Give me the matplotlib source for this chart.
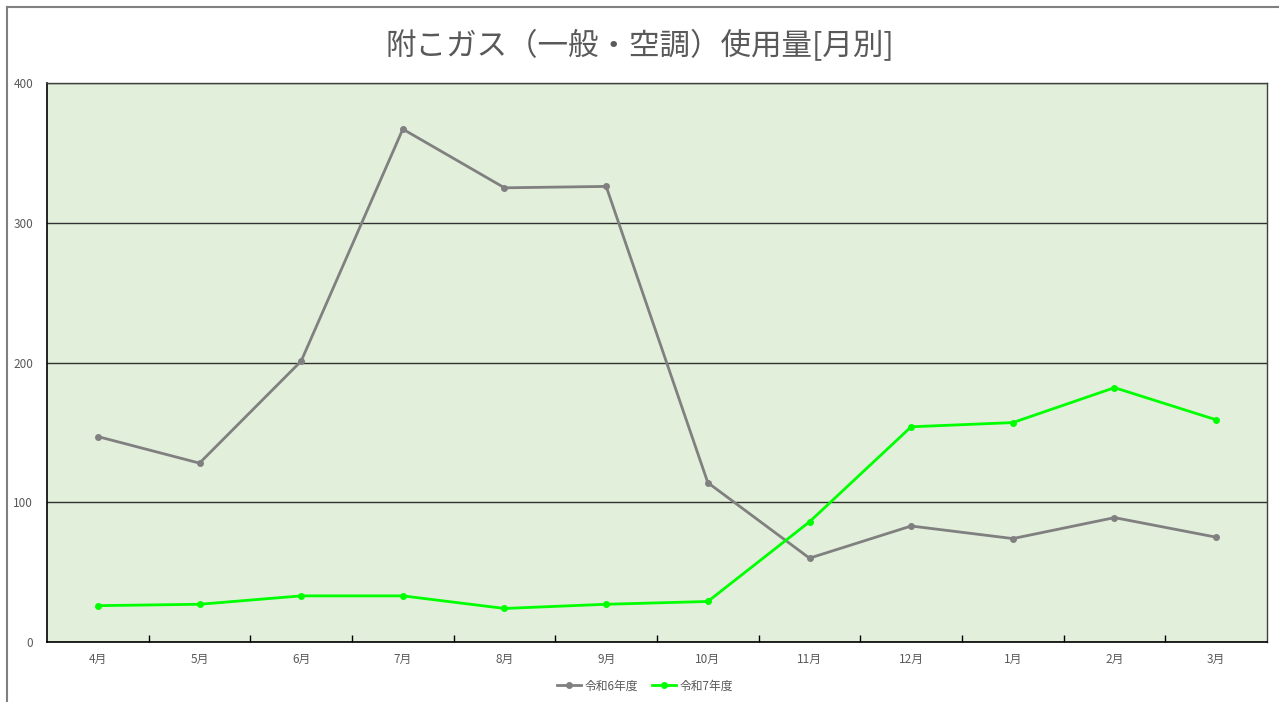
import matplotlib.pyplot as plt
from matplotlib.lines import Line2D

plt.rcParams['font.family'] = ['Noto Sans CJK JP', 'DejaVu Sans']

months = ["4月", "5月", "6月", "7月", "8月", "9月", "10月", "11月", "12月", "1月", "2月", "3月"]
r6 = [147, 128, 201, 367, 325, 326, 114, 60, 83, 74, 89, 75]
r7 = [26, 27, 33, 33, 24, 27, 29, 86, 154, 157, 182, 159]
yticks = [0, 100, 200, 300, 400]

fig = plt.figure(figsize=(12.79, 7.02), dpi=100)
ax = fig.add_axes([47 / 1279, 1 - 642 / 702, 1220 / 1279, 559 / 702])
ax.set_facecolor('#E2EFDA')

x = list(range(len(months)))
ax.plot(x, r6, color='#808080', lw=2.0, marker='o', ms=4, label='令和6年度', zorder=3)
ax.plot(x, r7, color='#00FF00', lw=2.0, marker='o', ms=4, label='令和7年度', zorder=3)

ax.set_xlim(-0.5, len(months) - 0.5)
ax.set_ylim(0, 400)
ax.set_yticks(yticks)
ax.set_yticklabels([str(v) for v in yticks])
ax.yaxis.grid(True, color='#303030', lw=1)
ax.set_axisbelow(True)
ax.tick_params(axis='y', length=0, pad=10, labelsize=8.5, labelcolor='#595959')

ax.set_xticks(x)
ax.set_xticklabels(months)
ax.tick_params(axis='x', which='major', length=0, pad=8, labelsize=8.5, labelcolor='#595959')
ax.set_xticks([i + 0.5 for i in range(len(months) - 1)], minor=True)
ax.tick_params(axis='x', which='minor', direction='in', length=5, color='black', width=1)

for s in ['left', 'bottom']:
    ax.spines[s].set_color('black')
    ax.spines[s].set_linewidth(1.2)
for s in ['top', 'right']:
    ax.spines[s].set_color('#404040')
    ax.spines[s].set_linewidth(1)

fig.text(0.5, 1 - 46 / 702, '附こガス（一般・空調）使用量[月別]', ha='center', va='center',
         fontsize=22, color='#595959')

fig.legend(loc='center', bbox_to_anchor=(645 / 1279, 1 - 686 / 702), ncol=2, frameon=False,
           fontsize=8.5, labelcolor='#595959', handlelength=2.0, handletextpad=0.3,
           columnspacing=1.2)

fig.add_artist(Line2D([7 / 1279, 7 / 1279], [0, 1 - 7 / 702], transform=fig.transFigure,
                      color='#808080', lw=1.5))
fig.add_artist(Line2D([7 / 1279, 1], [1 - 7 / 702, 1 - 7 / 702], transform=fig.transFigure,
                      color='#808080', lw=1.5))

fig.savefig('out.png', dpi=100)
